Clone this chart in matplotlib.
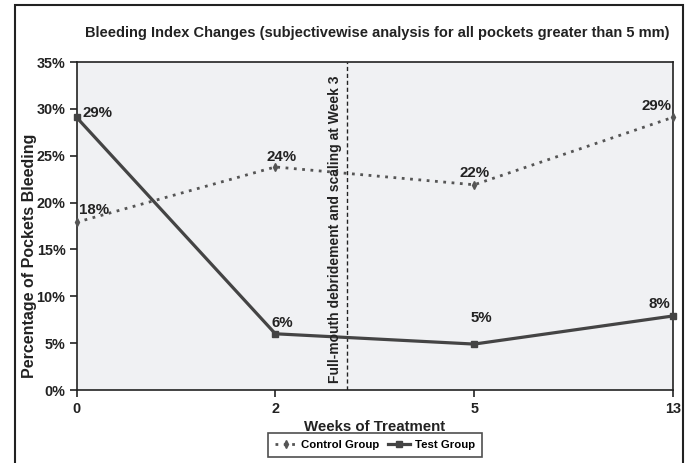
import matplotlib
matplotlib.use("Agg")
import matplotlib.pyplot as plt
from matplotlib.patches import Rectangle

plt.rcParams['font.family'] = ['Liberation Sans', 'DejaVu Sans']

weeks = ["0", "2", "5", "13"]
control = [17.9, 23.8, 21.9, 29.1]
test = [29.1, 6.0, 4.9, 7.9]
control_labels = ["18%", "24%", "22%", "29%"]
test_labels = ["29%", "6%", "5%", "8%"]
yticks = [0, 5, 10, 15, 20, 25, 30, 35]
event_pos = 1.36
event_text = "Full-mouth debridement and scaling at Week 3"

fig = plt.figure(figsize=(6.89, 4.63), dpi=100)
ax = fig.add_axes([76.5/689, 1-390/463, (673-76.5)/689, (390-62)/463])
ax.set_facecolor('#f0f1f3')

x = list(range(len(weeks)))
ax.plot(x, control, linestyle=(0, (1, 2)), color='#555555', lw=2.0,
        marker='d', markersize=4, clip_on=False, zorder=3, label='Control Group')
ax.plot(x, test, linestyle='-', color='#444444', lw=2.3,
        marker='s', markersize=4.5, clip_on=False, zorder=3, label='Test Group')

ax.axvline(event_pos, color='#222222', lw=1.0, linestyle=(0, (3, 2)), zorder=2)
ax.text(event_pos - 0.06, 17.1, event_text, rotation=90, ha='center', va='center',
        fontsize=10.0, fontweight='bold', color='#222222')

# label offsets in pixels (dx, dy up) and alignment
ctrl_off = [(3, 12, 'left'), (6, 10, 'center'), (0, 12, 'center'), (-2, 11, 'right')]
test_off = [(6, 4, 'left'), (7, 11, 'center'), (7, 26, 'center'), (-3, 12, 'right')]

def place(i, val, lab, off):
    dx, dy, ha = off
    ax.annotate(lab, (i, val), xytext=(dx * 0.72, dy * 0.72), textcoords='offset points',
                ha=ha, va='center', fontsize=10.8, fontweight='bold', color='#222222')

for i, (v, l) in enumerate(zip(control, control_labels)):
    place(i, v, l, ctrl_off[i])
for i, (v, l) in enumerate(zip(test, test_labels)):
    place(i, v, l, test_off[i])

ax.set_xlim(0, 3)
ax.set_ylim(0, 35)
ax.set_xticks(x)
ax.set_xticklabels(weeks)
ax.set_yticks(yticks)
ax.set_yticklabels([f"{t}%" for t in yticks])
ax.tick_params(axis='both', direction='out', length=5, width=1.2, labelsize=10.4,
               colors='#222222')
ax.tick_params(axis='y', pad=3)
for lab in ax.get_xticklabels() + ax.get_yticklabels():
    lab.set_fontweight('bold')
for s in ax.spines.values():
    s.set_color('#222222')
    s.set_linewidth(1.2)

ax.set_xlabel("Weeks of Treatment", fontsize=10.8, fontweight='bold', color='#222222', labelpad=3)
ax.set_ylabel("Percentage of Pockets Bleeding", fontsize=11.5, fontweight='bold', color='#222222')
ax.yaxis.set_label_coords(-0.066, 0.41)

fig.text(377/689, 1-33/463, "Bleeding Index Changes (subjectivewise analysis for all pockets greater than 5 mm)",
         ha='center', va='center', fontsize=10.5, fontweight='bold', color='#222222')

leg = ax.legend(loc='center', bbox_to_anchor=(0.5, (390-445)/328), ncol=2, frameon=True,
                fancybox=False, prop={'weight': 'bold', 'size': 8.2},
                handlelength=1.9, columnspacing=0.8, borderpad=0.6, handletextpad=0.4)
leg.get_frame().set_edgecolor('#222222')
leg.get_frame().set_linewidth(1.2)

fig.patches.append(Rectangle((14.5/689, -0.05), (683-14.5)/689, 1.05 - 5/463, transform=fig.transFigure,
                             fill=False, edgecolor='#222222', lw=1.5))

fig.savefig("out.png", dpi=100)
